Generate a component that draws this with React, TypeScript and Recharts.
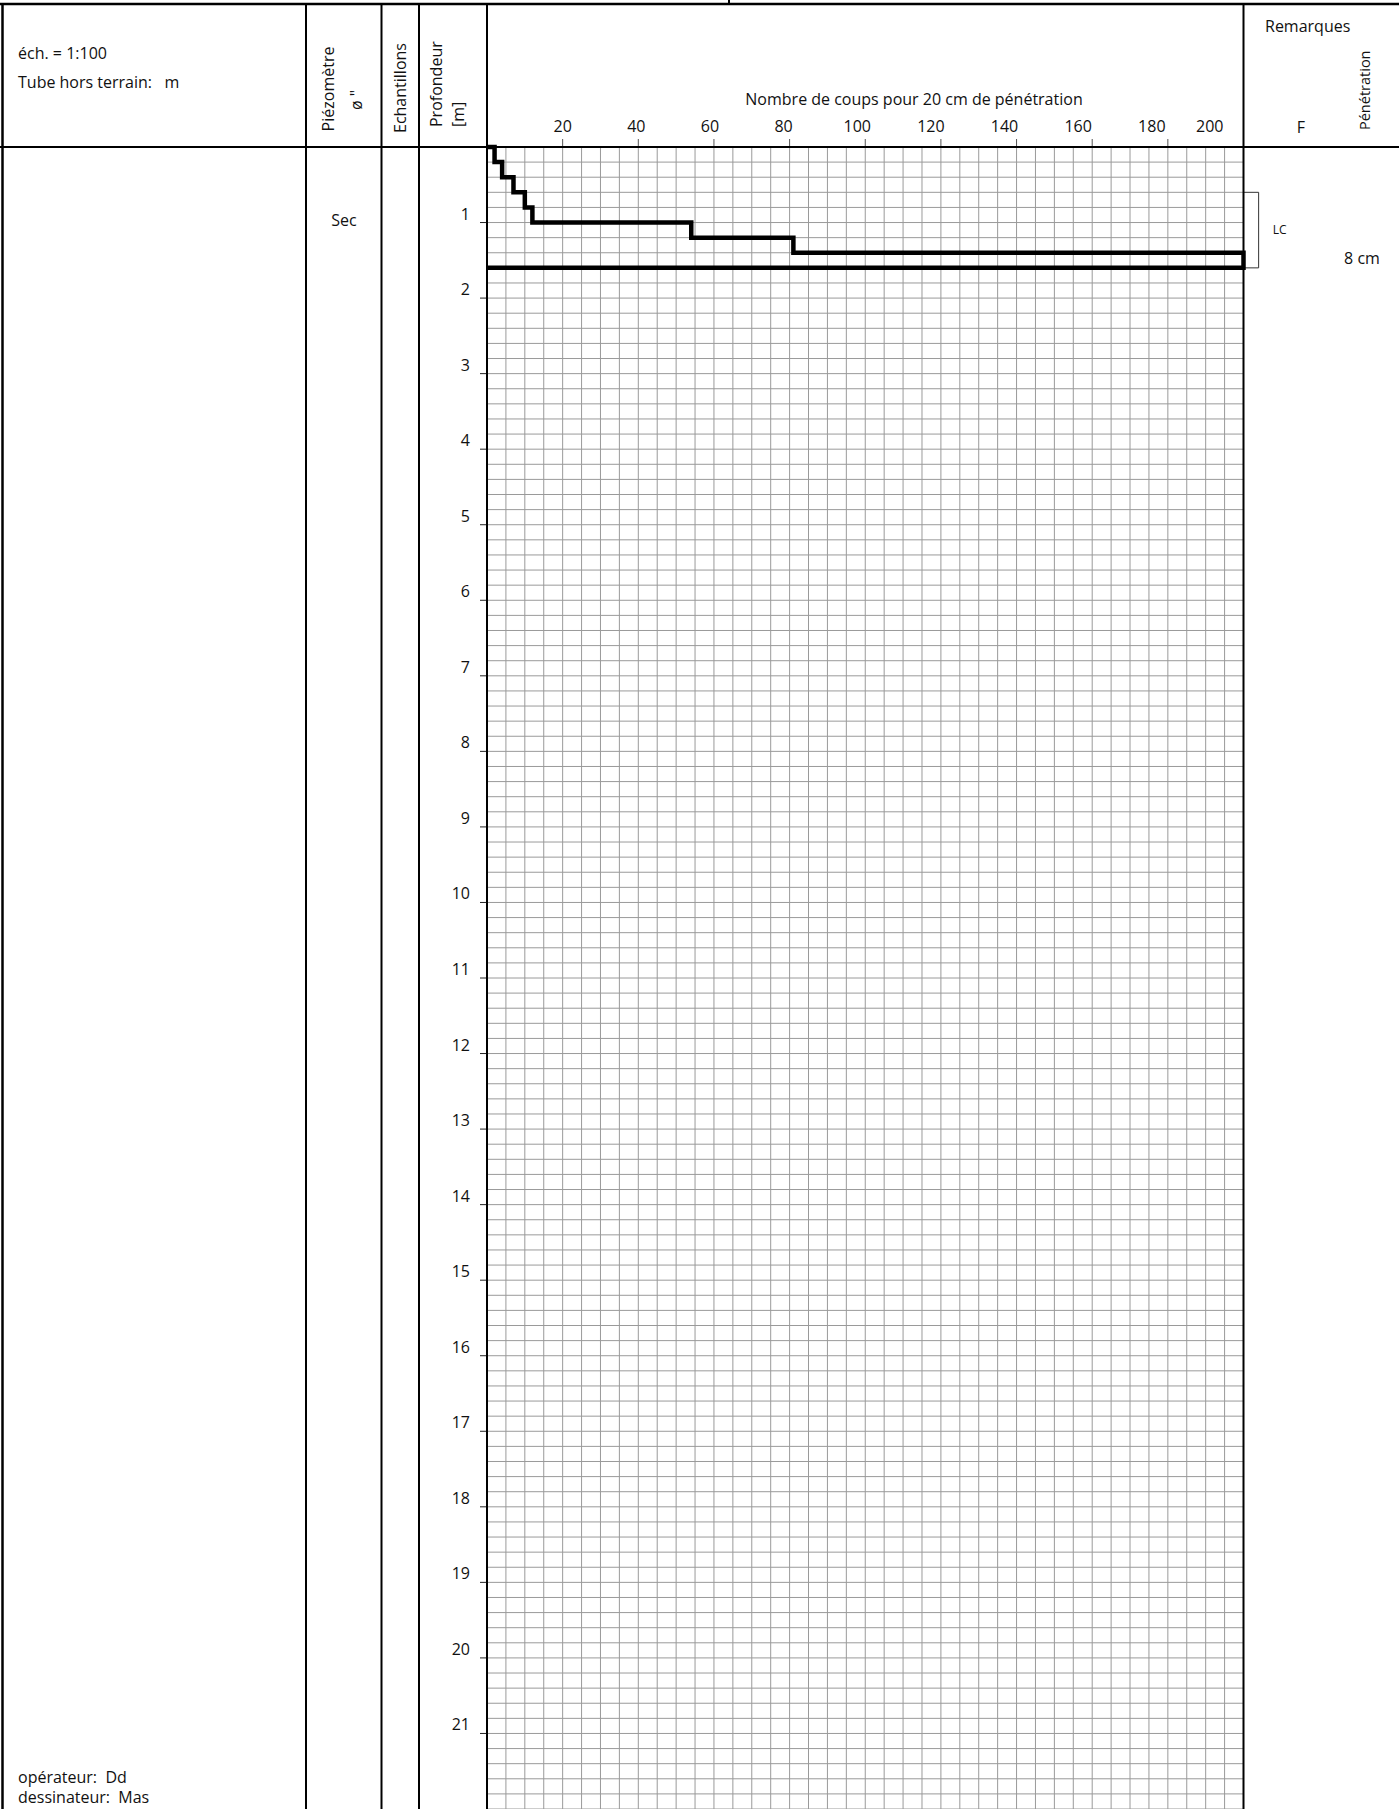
import { ComposedChart, Line, XAxis, YAxis, CartesianGrid, ReferenceArea } from 'recharts'

const BLOWS = [2, 4, 7, 10, 12, 54, 81, 200]
const DEPTH_BOTTOM = [0.2, 0.4, 0.6, 0.8, 1.0, 1.2, 1.4, 1.6]
const BLOW_TICKS = [20, 40, 60, 80, 100, 120, 140, 160, 180, 200]
const DEPTH_TICKS = [1, 2, 3, 4, 5, 6, 7, 8, 9, 10, 11, 12, 13, 14, 15, 16, 17, 18, 19, 20, 21]
const LC_FROM = 0.6
const LC_TO = 1.6

const X_MAX = 200
const DEPTH_MAX = 22
const FONT = '"Open Sans", sans-serif'

const W = 1399
const H = 1809
const PLOT_LEFT = 487
const PLOT_RIGHT = 1243.5
const HEADER_Y = 147
const TOP_Y = 4

const profile = [
  { blows: 0, depth: 0 },
  ...BLOWS.map((b, i) => ({ blows: b, depth: DEPTH_BOTTOM[i] })),
  { blows: 0, depth: DEPTH_BOTTOM[DEPTH_BOTTOM.length - 1] },
]

const minorX: number[] = []
for (let v = 0; v <= X_MAX; v += 5) minorX.push(v)
const minorY: number[] = []
for (let k = 0; k <= DEPTH_MAX * 5; k++) minorY.push(k / 5)

const BlowTick = ({ x, y, payload }: any) => {
  const v = payload.value
  const last = v === X_MAX
  return (
    <text
      x={last ? x - 20 : x - (v - 20) * 0.1}
      y={y - 5}
      textAnchor={last ? 'end' : 'middle'}
      fontFamily={FONT}
      fontSize={16}
      fill="#111"
    >
      {v}
    </text>
  )
}

const DepthTick = ({ x, y, payload }: any) => (
  <text x={x - 8} y={y - 3} textAnchor="end" fontFamily={FONT} fontSize={16} fill="#111">
    {payload.value}
  </text>
)

const colLines = [306, 381.5, 419, PLOT_LEFT, PLOT_RIGHT]

function Frame() {
  const t = { fontFamily: FONT, fill: '#111' }
  return (
    <svg width={W} height={H} style={{ position: 'absolute', left: 0, top: 0, pointerEvents: 'none' }}>
      <line x1={0} y1={TOP_Y} x2={W} y2={TOP_Y} stroke="#000" strokeWidth={2.5} />
      <line x1={729} y1={0} x2={729} y2={TOP_Y} stroke="#000" strokeWidth={2} />
      <line x1={2.5} y1={TOP_Y} x2={2.5} y2={H} stroke="#000" strokeWidth={2.5} />
      <line x1={0} y1={HEADER_Y} x2={W} y2={HEADER_Y} stroke="#000" strokeWidth={2} />
      {colLines.map(x => (
        <line key={x} x1={x} y1={TOP_Y} x2={x} y2={H} stroke="#000" strokeWidth={2} />
      ))}

      <text x={18} y={59} fontSize={16} {...t}>éch. = 1:100</text>
      <text x={18} y={88} fontSize={16} {...t} style={{ whiteSpace: 'pre' }}>Tube hors terrain:   m</text>
      <text x={18} y={1783} fontSize={16} {...t} style={{ whiteSpace: 'pre' }}>opérateur:  Dd</text>
      <text x={18} y={1803} fontSize={16} {...t} style={{ whiteSpace: 'pre' }}>dessinateur:  Mas</text>

      <text transform="translate(334,89) rotate(-90)" textAnchor="middle" fontSize={16} {...t}>Piézomètre</text>
      <text transform="translate(362,100) rotate(-90)" textAnchor="middle" fontSize={16} {...t}>ø "</text>
      <text transform="translate(406,133) rotate(-90)" fontSize={16} {...t}>Echantillons</text>
      <text transform="translate(442,127) rotate(-90)" fontSize={16} {...t}>Profondeur</text>
      <text transform="translate(464,127) rotate(-90)" fontSize={16} {...t}>[m]</text>
      <text transform="translate(1370,130) rotate(-90)" fontSize={14.5} {...t}>Pénétration</text>

      <text x={914} y={105} textAnchor="middle" fontSize={16} {...t}>Nombre de coups pour 20 cm de pénétration</text>
      <text x={1265} y={32} fontSize={16} {...t}>Remarques</text>
      <text x={1301} y={133} textAnchor="middle" fontSize={16} {...t}>F</text>
      <text x={344} y={226} textAnchor="middle" fontSize={16} {...t}>Sec</text>
      <text x={1362} y={264} textAnchor="middle" fontSize={16} {...t}>8 cm</text>
    </svg>
  )
}

export default function App() {
  return (
    <div style={{ position: 'absolute', left: 0, top: 0, width: W, height: H, background: '#fff' }}>
      <ComposedChart
        width={W}
        height={H}
        data={profile}
        margin={{ top: HEADER_Y - 30, left: PLOT_LEFT - 60, right: W - PLOT_RIGHT, bottom: 0 }}
      >
        <XAxis
          xAxisId="minor"
          dataKey="blows"
          type="number"
          domain={[0, X_MAX]}
          ticks={minorX}
          interval={0}
          hide
          allowDataOverflow
        />
        <YAxis
          yAxisId="minor"
          dataKey="depth"
          type="number"
          domain={[0, DEPTH_MAX]}
          ticks={minorY}
          interval={0}
          reversed
          hide
          allowDataOverflow
        />
        <CartesianGrid xAxisId="minor" yAxisId="minor" stroke="#9a9a9a" strokeWidth={1} />
        <XAxis
          dataKey="blows"
          type="number"
          orientation="top"
          domain={[0, X_MAX]}
          ticks={BLOW_TICKS}
          interval={0}
          height={30}
          tickSize={8}
          axisLine={false}
          tickLine={{ stroke: '#555' }}
          tick={<BlowTick />}
        />
        <YAxis
          type="number"
          domain={[0, DEPTH_MAX]}
          reversed
          ticks={DEPTH_TICKS}
          interval={0}
          width={60}
          tickSize={7}
          axisLine={{ stroke: '#000', strokeWidth: 2 }}
          tickLine={{ stroke: '#222' }}
          tick={<DepthTick />}
        />
        <ReferenceArea
          x1={X_MAX}
          x2={X_MAX + 4}
          y1={LC_FROM}
          y2={LC_TO}
          fill="none"
          stroke="#333"
          strokeWidth={1}
          ifOverflow="visible"
          label={{ value: 'LC', position: 'right', offset: 14, fontSize: 12, fontFamily: FONT, fill: '#111' }}
        />
        <Line
          dataKey="depth"
          type="stepAfter"
          stroke="#000"
          strokeWidth={4.5}
          dot={false}
          activeDot={false}
          isAnimationActive={false}
        />
      </ComposedChart>
      <Frame />
    </div>
  )
}
